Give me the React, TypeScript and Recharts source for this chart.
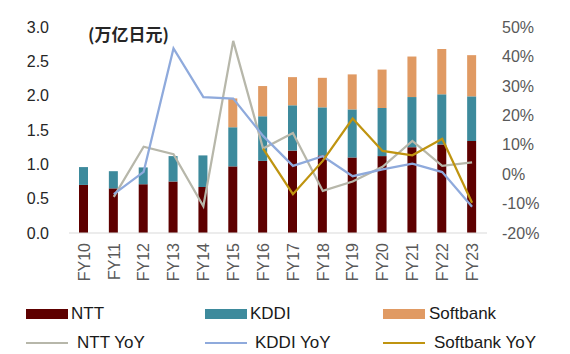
import React from "react";
import { ComposedChart, Bar, Line, XAxis, YAxis } from "recharts";

const categories = ["FY10","FY11","FY12","FY13","FY14","FY15","FY16","FY17","FY18","FY19","FY20","FY21","FY22","FY23"];
const ntt = [0.70,0.65,0.71,0.75,0.67,0.97,1.05,1.20,1.13,1.10,1.12,1.25,1.29,1.34];
const kddi = [0.26,0.25,0.245,0.37,0.46,0.57,0.65,0.66,0.70,0.70,0.70,0.73,0.73,0.65];
const softbank = [0,0,0,0,0,0.42,0.44,0.41,0.43,0.51,0.56,0.59,0.66,0.60];
const nttYoY: (number | null)[] = [null,-7.7,9.3,6.8,-10.9,45.3,8.7,14.0,-5.7,-2.5,2.5,11.3,2.8,4.0];
const kddiYoY: (number | null)[] = [null,-6.8,0.8,42.7,26.2,25.7,13.0,2.8,6.1,-0.7,1.6,3.6,0.7,-11.1];
const softbankYoY: (number | null)[] = [null,null,null,null,null,null,8.7,-6.8,4.5,18.9,7.9,6.4,12.0,-9.7];
const leftTicks = [0,0.5,1.0,1.5,2.0,2.5,3.0];
const rightTicks = [-20,-10,0,10,20,30,40,50];

const data = categories.map((c, i) => ({
  name: c,
  NTT: ntt[i],
  KDDI: kddi[i],
  Softbank: softbank[i],
  nttYoY: nttYoY[i],
  kddiYoY: kddiYoY[i],
  softbankYoY: softbankYoY[i],
}));

const C_NTT = "#5E0000";
const C_KDDI = "#3D8A9C";
const C_SB = "#E09A63";
const C_NTTY = "#B7B7AA";
const C_KDDIY = "#8FAADC";
const C_SBY = "#BF9410";

const font = "'Liberation Sans', Arial, sans-serif";

const XTick = (props: any) => {
  const { x, y, payload } = props;
  return (
    <text
      x={x}
      y={y}
      transform={`rotate(-90, ${x}, ${y})`}
      textAnchor="end"
      dy="0.36em"
      fill="#595959"
      fontSize={16}
      fontFamily={font}
    >
      {payload.value}
    </text>
  );
};

const legendItems = [
  { label: "NTT", color: C_NTT, type: "rect", x: 26, y: 314, tx: 71 },
  { label: "KDDI", color: C_KDDI, type: "rect", x: 205, y: 314, tx: 250 },
  { label: "Softbank", color: C_SB, type: "rect", x: 383, y: 314, tx: 429 },
  { label: "NTT YoY", color: C_NTTY, type: "line", x: 26, y: 343, tx: 77 },
  { label: "KDDI YoY", color: C_KDDIY, type: "line", x: 205, y: 343, tx: 255 },
  { label: "Softbank YoY", color: C_SBY, type: "line", x: 383, y: 343, tx: 434 },
];

export default function App() {
  return (
    <div style={{ position: "absolute", left: 0, top: 0, width: 570, height: 354, background: "#fff", fontFamily: font }}>
      <ComposedChart
        width={570}
        height={354}
        data={data}
        margin={{ top: 27, right: 0, left: 0, bottom: 71 }}
        barCategoryGap={0}
      >
        <XAxis
          dataKey="name"
          interval={0}
          height={50}
          tickLine={false}
          axisLine={{ stroke: "#D9D9D9", strokeWidth: 1 }}
          tick={<XTick />}
          tickSize={0}
          tickMargin={10}
        />
        <YAxis
          yAxisId="left"
          orientation="left"
          width={69}
          domain={[0, 3]}
          ticks={leftTicks}
          tickFormatter={(v: number) => v.toFixed(1)}
          axisLine={false}
          tickLine={false}
          tickSize={0}
          tickMargin={20}
          tick={{ fill: "#262626", fontSize: 16, fontFamily: font }}
          interval={0}
        />
        <YAxis
          yAxisId="right"
          orientation="right"
          width={83}
          domain={[-20, 50]}
          ticks={rightTicks}
          tickFormatter={(v: number) => `${v}%`}
          axisLine={false}
          tickLine={false}
          tickSize={0}
          tickMargin={15}
          tick={{ fill: "#595959", fontSize: 16, fontFamily: font, textAnchor: "start" }}
          interval={0}
        />
        <Bar yAxisId="left" dataKey="NTT" stackId="a" fill={C_NTT} barSize={9} isAnimationActive={false} />
        <Bar yAxisId="left" dataKey="KDDI" stackId="a" fill={C_KDDI} barSize={9} isAnimationActive={false} />
        <Bar yAxisId="left" dataKey="Softbank" stackId="a" fill={C_SB} barSize={9} isAnimationActive={false} />
        <Line yAxisId="right" dataKey="nttYoY" stroke={C_NTTY} strokeWidth={2.25} dot={false} isAnimationActive={false} />
        <Line yAxisId="right" dataKey="kddiYoY" stroke={C_KDDIY} strokeWidth={2.25} dot={false} isAnimationActive={false} />
        <Line yAxisId="right" dataKey="softbankYoY" stroke={C_SBY} strokeWidth={2.25} dot={false} isAnimationActive={false} />
      </ComposedChart>
      <div
        style={{
          position: "absolute",
          left: 88,
          top: 23,
          fontSize: 17,
          fontWeight: 700,
          color: "#262626",
          fontFamily: "'Noto Sans CJK SC', sans-serif",
          lineHeight: "22px",
          whiteSpace: "nowrap",
        }}
      >
        (万亿日元)
      </div>
      {legendItems.map((it) => (
        <React.Fragment key={it.label}>
          {it.type === "rect" ? (
            <div style={{ position: "absolute", left: it.x, top: it.y - 5, width: 42, height: 10, background: it.color }} />
          ) : (
            <div style={{ position: "absolute", left: it.x, top: it.y - 1, width: 42, height: 2, background: it.color }} />
          )}
          <div
            style={{
              position: "absolute",
              left: it.tx,
              top: it.y - 10,
              fontSize: 17,
              lineHeight: "20px",
              color: "#1a1a1a",
              fontFamily: font,
              whiteSpace: "nowrap",
            }}
          >
            {it.label}
          </div>
        </React.Fragment>
      ))}
    </div>
  );
}
